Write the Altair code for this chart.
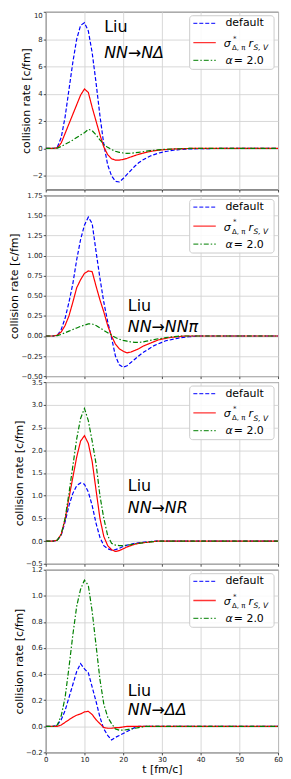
import altair as alt
import pandas as pd

# sample times [fm/c]
T = [0, 1, 2, 3, 4, 5, 6, 7, 8, 9, 10, 11, 12, 13, 14, 15, 16, 17, 18, 19, 20,
     21, 22, 23, 24, 25, 26, 27, 28, 29, 30, 31, 32, 33, 34, 35, 36, 37, 38, 39, 40,
     45, 50, 55, 60]

SERIES = ["default", "sigma", "alpha"]

# ---- NN -> N Delta
p1_default = [0, 0, 0, 0.1, 0.8, 2.3, 4.3, 6.3, 8.0, 9.0,
              9.2, 8.6, 7.0, 4.8, 2.4, 0.3, -1.2, -2.0, -2.4, -2.45,
              -2.2, -1.9, -1.6, -1.3, -1.05, -0.85, -0.7, -0.55, -0.45, -0.35,
              -0.28, -0.22, -0.17, -0.13, -0.1, -0.07, -0.05, -0.04, -0.03, -0.02,
              -0.01, 0, 0, 0, 0]
p1_sigma = [0, 0, 0, 0.05, 0.4, 1.1, 1.8, 2.5, 3.2, 3.9,
            4.35, 4.1, 3.0, 2.0, 1.0, 0.1, -0.45, -0.75, -0.85, -0.85,
            -0.8, -0.72, -0.62, -0.52, -0.43, -0.35, -0.28, -0.22, -0.17, -0.13,
            -0.1, -0.08, -0.06, -0.04, -0.03, -0.02, -0.01, 0, 0, 0,
            0, 0, 0, 0, 0]
p1_alpha = [0, 0, 0, 0.03, 0.15, 0.3, 0.45, 0.62, 0.8, 0.98,
            1.15, 1.4, 1.3, 1.0, 0.62, 0.3, 0.08, -0.08, -0.2, -0.28,
            -0.33, -0.36, -0.35, -0.32, -0.28, -0.24, -0.2, -0.16, -0.13, -0.1,
            -0.08, -0.06, -0.05, -0.04, -0.03, -0.02, -0.01, 0, 0, 0,
            0, 0, 0, 0, 0]

# ---- NN -> NN pi
p2_default = [0, 0, 0, 0.01, 0.08, 0.22, 0.42, 0.65, 0.95, 1.2,
              1.38, 1.48, 1.4, 1.05, 0.72, 0.42, 0.18, -0.02, -0.25, -0.36,
              -0.39, -0.37, -0.33, -0.29, -0.25, -0.21, -0.18, -0.15, -0.12, -0.1,
              -0.08, -0.06, -0.05, -0.04, -0.03, -0.02, -0.015, -0.01, -0.005, 0,
              0, 0, 0, 0, 0]
p2_sigma = [0, 0, 0, 0.01, 0.05, 0.13, 0.25, 0.42, 0.6, 0.7,
            0.78, 0.81, 0.8, 0.62, 0.45, 0.3, 0.13, 0.0, -0.1, -0.16,
            -0.19, -0.21, -0.2, -0.18, -0.16, -0.13, -0.11, -0.09, -0.07, -0.05,
            -0.04, -0.03, -0.02, -0.015, -0.01, -0.005, 0, 0, 0, 0,
            0, 0, 0, 0, 0]
p2_alpha = [0, 0, 0, 0.005, 0.02, 0.04, 0.06, 0.08, 0.1, 0.12,
            0.135, 0.15, 0.15, 0.13, 0.1, 0.07, 0.04, 0.01, -0.02, -0.04,
            -0.055, -0.065, -0.075, -0.08, -0.08, -0.075, -0.065, -0.055, -0.045, -0.035,
            -0.03, -0.02, -0.015, -0.01, -0.005, 0, 0, 0, 0, 0,
            0, 0, 0, 0, 0]

# ---- NN -> NR
p3_default = [0, 0, 0, 0.02, 0.13, 0.42, 0.78, 1.05, 1.22, 1.28,
              1.25, 1.08, 0.78, 0.39, 0.08, -0.1, -0.17, -0.2, -0.19, -0.16,
              -0.12, -0.09, -0.07, -0.05, -0.04, -0.03, -0.02, -0.01, 0, 0,
              0, 0, 0, 0, 0, 0, 0, 0, 0, 0,
              0, 0, 0, 0, 0]
p3_sigma = [0, 0, 0, 0.02, 0.15, 0.48, 0.95, 1.4, 1.85, 2.2,
            2.32, 2.15, 1.75, 1.12, 0.5, 0.1, -0.1, -0.19, -0.23, -0.21,
            -0.17, -0.13, -0.1, -0.07, -0.05, -0.04, -0.03, -0.02, -0.01, 0,
            0, 0, 0, 0, 0, 0, 0, 0, 0, 0,
            0, 0, 0, 0, 0]
p3_alpha = [0, 0, 0, 0.02, 0.15, 0.5, 1.05, 1.65, 2.25, 2.7,
            2.92, 2.65, 2.2, 1.7, 1.0, 0.5, 0.12, -0.05, -0.09, -0.1,
            -0.1, -0.09, -0.08, -0.06, -0.05, -0.04, -0.03, -0.02, -0.01, 0,
            0, 0, 0, 0, 0, 0, 0, 0, 0, 0,
            0, 0, 0, 0, 0]

# ---- NN -> Delta Delta
p4_default = [0, 0, 0, 0.01, 0.05, 0.12, 0.22, 0.32, 0.42, 0.48,
              0.44, 0.41, 0.3, 0.19, 0.07, -0.02, -0.07, -0.105, -0.085, -0.07,
              -0.055, -0.04, -0.025, -0.01, 0, 0, 0, 0, 0, 0,
              0, 0, 0, 0, 0, 0, 0, 0, 0, 0,
              0, 0, 0, 0, 0]
p4_sigma = [0, 0, 0, 0, 0.01, 0.03, 0.05, 0.07, 0.085, 0.095,
            0.11, 0.115, 0.09, 0.05, 0.02, -0.01, -0.015, -0.015, -0.01, -0.01,
            -0.005, 0, 0, 0, 0, 0, 0, 0, 0, 0,
            0, 0, 0, 0, 0, 0, 0, 0, 0, 0,
            0, 0, 0, 0, 0]
p4_alpha = [0, 0, 0, 0.01, 0.08, 0.22, 0.45, 0.7, 0.92, 1.05,
            1.12, 1.08, 0.88, 0.62, 0.36, 0.17, 0.07, 0.02, -0.02, -0.03,
            -0.03, -0.025, -0.02, -0.015, -0.01, -0.005, 0, 0, 0, 0,
            0, 0, 0, 0, 0, 0, 0, 0, 0, 0,
            0, 0, 0, 0, 0]

reactions = ["NN→NΔ", "NN→NNπ", "NN→NR", "NN→ΔΔ"]
y_domains = [[-3, 10], [-0.5, 1.75], [-0.5, 3.5], [-0.2, 1.2]]
y_ticks = [[-2, 0, 2, 4, 6, 8, 10],
           [-0.5, -0.25, 0, 0.25, 0.5, 0.75, 1.0, 1.25, 1.5, 1.75],
           [-0.5, 0, 0.5, 1.0, 1.5, 2.0, 2.5, 3.0, 3.5],
           [-0.2, 0, 0.2, 0.4, 0.6, 0.8, 1.0, 1.2]]
y_formats = ["d", ".2f", ".1f", ".1f"]
x_ticks = [0, 10, 20, 30, 40, 50, 60]
# annotation anchor (t, value) for "Liu" and the reaction label
ann_t = [15.1, 21.2, 21.2, 21.2]
ann_liu_v = [8.86, 0.378, 1.205, 0.268]
ann_rx_v = [6.95, 0.106, 0.724, 0.128]

panel_data = [(p1_default, p1_sigma, p1_alpha),
              (p2_default, p2_sigma, p2_alpha),
              (p3_default, p3_sigma, p3_alpha),
              (p4_default, p4_sigma, p4_alpha)]

W = 234
HEIGHTS = [179, 182, 183, 184]
FONT = "DejaVu Sans"
COLORS = ["#0000ff", "#ff0000", "#008000"]
DASHES = [[4, 2], [1, 0], [5, 2, 1.5, 2]]


def legend_layers():
    one = pd.DataFrame({"k": [0]})
    base = alt.Chart(one)
    layers = [
        base.mark_rect(fill="white", fillOpacity=0.85, stroke="#cccccc",
                       strokeWidth=1, cornerRadius=3).encode(
            x=alt.value(W - 89), x2=alt.value(W - 4),
            y=alt.value(4), y2=alt.value(58)),
    ]
    ys = [11.7, 31, 49]
    for c, dsh, yy in zip(COLORS, DASHES, ys):
        layers.append(base.mark_rule(color=c, strokeWidth=1.3, strokeDash=dsh,
                                     opacity=0.8).encode(
            x=alt.value(W - 85.3), x2=alt.value(W - 62.7), y=alt.value(yy)))
    txt = dict(font=FONT, color="black", align="left")
    layers += [
        base.mark_text(text="default", fontSize=11, baseline="middle", **txt).encode(
            x=alt.value(W - 53), y=alt.value(11.7)),
        base.mark_text(text="α", fontSize=11, baseline="middle",
                       fontStyle="italic", **txt).encode(
            x=alt.value(W - 53), y=alt.value(49.5)),
        base.mark_text(text="= 2.0", fontSize=11, baseline="middle", **txt).encode(
            x=alt.value(W - 44.5), y=alt.value(49.5)),
        base.mark_text(text="σ", fontSize=11, baseline="alphabetic",
                       fontStyle="italic", **txt).encode(
            x=alt.value(W - 54.7), y=alt.value(35.5)),
        base.mark_text(text="*", fontSize=7, baseline="alphabetic", **txt).encode(
            x=alt.value(W - 45.3), y=alt.value(29)),
        base.mark_text(text="Δ, π", fontSize=7, baseline="alphabetic", **txt).encode(
            x=alt.value(W - 46.3), y=alt.value(38.5)),
        base.mark_text(text="r", fontSize=11, baseline="alphabetic",
                       fontStyle="italic", **txt).encode(
            x=alt.value(W - 29.7), y=alt.value(35.5)),
        base.mark_text(text="S, V", fontSize=7.5, baseline="alphabetic",
                       fontStyle="italic", **txt).encode(
            x=alt.value(W - 24.7), y=alt.value(38.8)),
    ]
    return layers


def make_panel(i):
    d, s, a = panel_data[i]
    n = len(T)
    df = pd.DataFrame({"t": T * 3, "v": d + s + a,
                       "s": ["default"] * n + ["sigma"] * n + ["alpha"] * n})
    last = i == 3
    xaxis = alt.Axis(values=x_ticks, tickCount=50, labels=last,
                     title="t [fm/c]" if last else None,
                     format="d", labelFlush=False, labelOverlap=False, ticks=True,
                     grid=True)
    yaxis = alt.Axis(values=y_ticks[i], tickCount=50, format=y_formats[i],
                     title="collision rate [c/fm]", labelFlush=(i == 0),
                     labelOverlap=False, grid=True)
    lines = alt.Chart(df).mark_line(strokeWidth=1.2, clip=True).encode(
        x=alt.X("t:Q", scale=alt.Scale(domain=[0, 60], nice=False), axis=xaxis),
        y=alt.Y("v:Q", scale=alt.Scale(domain=y_domains[i], nice=False, zero=False),
                axis=yaxis),
        color=alt.Color("s:N", scale=alt.Scale(domain=SERIES, range=COLORS), legend=None),
        strokeDash=alt.StrokeDash("s:N", scale=alt.Scale(domain=SERIES, range=DASHES),
                                  legend=None),
    )
    ann1 = pd.DataFrame({"t": [ann_t[i]], "v": [ann_liu_v[i]], "lab": ["Liu"]})
    ann2 = pd.DataFrame({"t": [ann_t[i]], "v": [ann_rx_v[i]], "lab": [reactions[i]]})
    liu = alt.Chart(ann1).mark_text(align="left", baseline="middle", fontSize=16,
                                    font=FONT, color="black").encode(
        x="t:Q", y="v:Q", text="lab:N")
    rx = alt.Chart(ann2).mark_text(align="left", baseline="middle", fontSize=16,
                                   font=FONT, fontStyle="italic", color="black").encode(
        x="t:Q", y="v:Q", text="lab:N")
    return alt.layer(lines, *legend_layers(), liu, rx).properties(
        width=W, height=HEIGHTS[i])


chart = alt.vconcat(*[make_panel(i) for i in range(4)], spacing=6, bounds="flush").properties(
    padding={"left": 0, "top": 0, "right": 0, "bottom": 0}
).configure_view(
    stroke="#222222", strokeWidth=1
).configure_axis(
    domain=False, grid=True, gridColor="#d3d3d3", gridWidth=0.9,
    tickColor="#222222", tickSize=2.5, tickWidth=0.8,
    labelFont=FONT, labelFontSize=7, labelColor="#222222", labelPadding=1,
    labelOverlap=False,
    titleFont=FONT, titleFontSize=11, titleFontWeight="normal", titleColor="black",
    titlePadding=1
)

chart.save("out.html", embed_options={"renderer": "svg", "actions": False})
